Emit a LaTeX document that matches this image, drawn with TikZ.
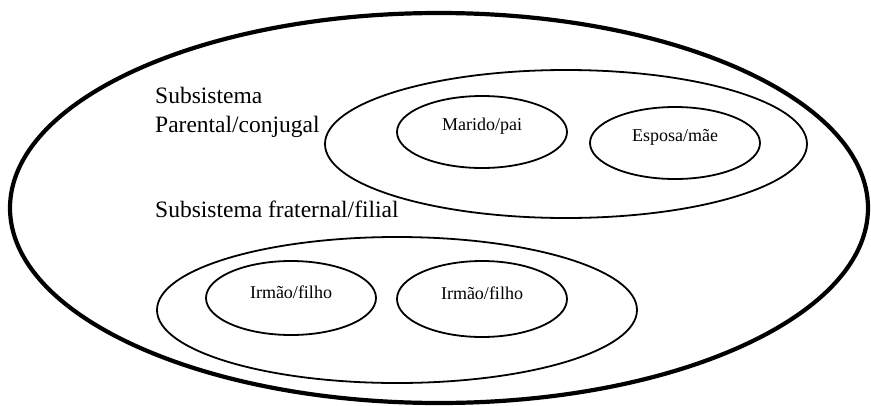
\documentclass[tikz,border=0pt]{standalone}
\usepackage{fontspec}
\setmainfont{Liberation Serif}
\usetikzlibrary{shapes.geometric}
\begin{document}
\begin{tikzpicture}[x=1pt,y=-1pt,
  system/.style={ellipse,draw,line width=4.2pt,inner sep=0pt},
  subsystem/.style={ellipse,draw,line width=1.8pt,inner sep=0pt},
  member/.style={ellipse,draw,line width=1.8pt,inner sep=0pt,
    minimum width=170pt,minimum height=72pt},
  membertext/.style={inner sep=0pt,font=\fontsize{18}{21}\selectfont,yshift=6pt},
  heading/.style={inner sep=0pt,anchor=base west,font=\fontsize{23.5}{28}\selectfont}]
\useasboundingbox (0,0) rectangle (871,405);

% whole family system
\node[system,minimum width=858pt,minimum height=390pt] (family) at (439,208) {};

% parental / conjugal subsystem
\node[subsystem,minimum width=482pt,minimum height=148pt] (parental) at (566,144) {};
\node[member] (husband) at (482,132) {};
\node[membertext] (husbandtext) at (husband) {Marido/pai};
\node[member] (wife) at (675,143) {};
\node[membertext] (wifetext) at (wife) {Esposa/mãe};

% fraternal / filial subsystem
\node[subsystem,minimum width=480pt,minimum height=146pt] (fraternal) at (397,310) {};
\node[member,minimum height=74pt] (childa) at (291,298) {};
\node[membertext] (childatext) at (childa) {Irmão/filho};
\node[member,minimum height=76pt] (childb) at (482,299) {};
\node[membertext] (childbtext) at (childb) {Irmão/filho};

% subsystem headings
\node[heading] (parentalhead) at (155,103) {Subsistema};
\node[heading] (parentalhead2) at (155,132) {Parental/conjugal};
\node[heading] (fraternalhead) at (155,217) {Subsistema fraternal/filial};
\end{tikzpicture}
\end{document}
